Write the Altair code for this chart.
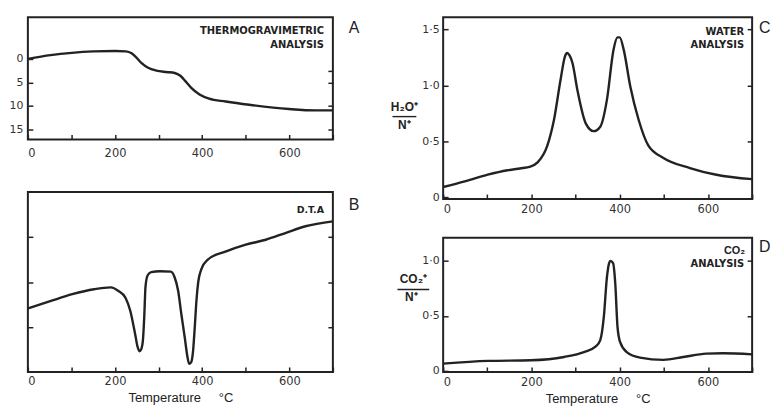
import altair as alt
import pandas as pd

# ---------------- data ----------------
# A: thermogravimetric analysis (weight loss, axis reversed)
a_temp = [0, 52, 101, 150, 200, 225, 238, 248, 261, 276, 295, 318, 337, 350, 362, 375, 394, 416, 454, 508, 599, 660, 700]
a_val = [0.0, -0.8, -1.3, -1.6, -1.7, -1.6, -1.2, -0.4, 0.9, 1.9, 2.5, 2.8, 3.0, 3.6, 4.8, 6.2, 7.6, 8.5, 9.1, 9.8, 10.7, 11.0, 11.0]

# B: D.T.A (arbitrary units)
b_temp = [0, 53, 102, 152, 190, 208, 224, 235, 246, 252, 256, 260, 264, 267, 270, 275, 283, 303, 328, 337, 345, 352, 360, 366, 370, 375, 379, 383, 387, 391, 398, 413, 455, 500, 546, 591, 637, 700]
b_val = [1.41, 1.58, 1.73, 1.84, 1.88, 1.80, 1.65, 1.36, 0.85, 0.55, 0.46, 0.50, 0.70, 1.20, 1.90, 2.15, 2.22, 2.24, 2.23, 2.10, 1.80, 1.30, 0.77, 0.35, 0.18, 0.22, 0.45, 0.99, 1.60, 2.00, 2.28, 2.50, 2.68, 2.83, 2.94, 3.09, 3.24, 3.35]

# C: water analysis H2O+/N+
c_temp = [0, 49, 101, 146, 180, 195, 214, 236, 251, 266, 276, 281, 286, 293, 304, 323, 341, 356, 371, 386, 395, 400, 409, 424, 443, 465, 499, 559, 619, 700]
c_val = [0.09, 0.14, 0.20, 0.24, 0.26, 0.27, 0.31, 0.46, 0.69, 1.05, 1.26, 1.29, 1.27, 1.20, 0.96, 0.66, 0.59, 0.63, 0.87, 1.32, 1.43, 1.43, 1.32, 0.99, 0.69, 0.46, 0.35, 0.26, 0.20, 0.16]

# D: CO2 analysis CO2+/N+
d_temp = [0, 101, 199, 274, 319, 345, 356, 364, 371, 376, 379, 385, 390, 395, 401, 416, 446, 499, 544, 596, 634, 700]
d_val = [0.066, 0.09, 0.096, 0.126, 0.17, 0.22, 0.28, 0.49, 0.85, 0.98, 1.0, 0.98, 0.79, 0.40, 0.26, 0.17, 0.12, 0.10, 0.126, 0.156, 0.16, 0.15]

x_ticks = [0, 100, 200, 300, 400, 500, 600, 700]

FONT = "Liberation Sans"
TICKFONT = "DejaVu Sans"
NOTEFONT = "DejaVu Sans"
INK = "#222222"
TEMP_TITLE = "Temperature\u00a0\u00a0\u00a0\u00a0\u00a0\u00b0C"

XLABEL = "(datum.value % 200 == 0 && datum.value < 700) ? datum.label : ''"
YDOT = "datum.value == 0 ? '0' : replace(format(datum.value, '.1f'), '.', '\u00b7')"


def text_layer(txt, px, py, align="right", size=10, weight="bold", font=NOTEFONT):
    return alt.Chart(pd.DataFrame({"t": [txt]})).mark_text(
        align=align, baseline="middle", font=font, fontSize=size,
        fontWeight=weight, color=INK
    ).encode(x=alt.value(px), y=alt.value(py), text="t:N")


def rule_layer(x1, x2, yy):
    return alt.Chart(pd.DataFrame({"r": [0]})).mark_rule(
        color=INK, strokeWidth=1.4
    ).encode(x=alt.value(x1), x2=alt.value(x2), y=alt.value(yy))


def vrule_layer(xx, y1, y2):
    return alt.Chart(pd.DataFrame({"r": [0]})).mark_rule(
        color=INK, opacity=0
    ).encode(x=alt.value(xx), y=alt.value(y1), y2=alt.value(y2))


def panel(temps, vals, ydom, yrev, left_vals, left_labels, left_expr, left_pad,
          right_vals, w, h, xpad, xtitle, extras):
    df = pd.DataFrame({"T": temps, "v": vals})
    xs = alt.Scale(domain=[0, 700], nice=False, zero=False)
    ys = alt.Scale(domain=ydom, reverse=yrev, nice=False, zero=False)
    xkw = dict(values=x_ticks, labelExpr=XLABEL, offset=-5, tickSize=5,
               labelPadding=xpad, domain=False, grid=False, tickColor=INK,
               tickWidth=1.5, ticks=True, labels=True, labelFontSize=11.5)
    if xtitle:
        xkw.update(title=xtitle, titlePadding=4, titleFont=FONT,
                   titleFontSize=13, titleFontWeight="normal", titleColor=INK)
    else:
        xkw.update(title=None)
    lkw = dict(orient="left", values=left_vals, offset=-5, tickSize=5,
               domain=False, grid=False, title=None, tickColor=INK,
               tickWidth=1.5, labels=left_labels, ticks=True, labelFontSize=11)
    if left_labels:
        lkw.update(labelPadding=left_pad)
        if left_expr:
            lkw.update(labelExpr=left_expr)
    xaxis = alt.Axis(**xkw)
    line = alt.Chart(df).mark_line(
        interpolate="monotone", color=INK, strokeWidth=2.4
    ).encode(
        x=alt.X("T:Q", scale=xs, axis=xaxis),
        y=alt.Y("v:Q", scale=ys, axis=alt.Axis(**lkw)),
    )
    right = alt.Chart(df).mark_line(opacity=0).encode(
        x=alt.X("T:Q", scale=xs, axis=xaxis),
        y=alt.Y("v:Q", scale=ys, axis=alt.Axis(
            orient="right", values=right_vals, labels=False, offset=-5,
            tickSize=5, domain=False, grid=False, title=None,
            tickColor=INK, tickWidth=1.5, ticks=True)),
    )
    return alt.layer(line, right, *extras).resolve_axis(y="independent").properties(
        width=w, height=h)


A = panel(a_temp, a_val, [-8.9, 17.2], True, [0, 5, 10, 15], True, None, 5,
          [2.5, 5, 10, 15], 307, 123, 8, None,
          [text_layer("THERMOGRAVIMETRIC", 298, 14),
           text_layer("ANALYSIS", 298, 28),
           text_layer("A", 323, 11, align="left", size=16, weight="normal", font=FONT)])

B = panel(b_temp, b_val, [0, 4], False, [1, 2, 3], False, None, 5,
          [1, 2, 3], 307, 181, 4, TEMP_TITLE,
          [text_layer("D.T.A", 298, 18, size=9.5),
           text_layer("B", 323, 13, align="left", size=16, weight="normal", font=FONT)])

C = panel(c_temp, c_val, [-0.018, 1.61], False, [0, 0.5, 1.0, 1.5], True, YDOT, 4,
          [0.5, 1.0, 1.5], 311, 183, 5, None,
          [text_layer("WATER", 303, 15),
           text_layer("ANALYSIS", 303, 28),
           text_layer("C", 318, 11, align="left", size=16, weight="normal", font=FONT),
           text_layer("H\u2082O\u207a", -39, 90, align="center", size=12, font=FONT),
           rule_layer(-51, -27, 100),
           text_layer("N\u207a", -39, 108, align="center", size=12, font=FONT),
           vrule_layer(0, -3, 0)])

D = panel(d_temp, d_val, [-0.01, 1.21], False, [0, 0.5, 1.0], True, YDOT, 4,
          [0.5, 1.0], 311, 135, 5, TEMP_TITLE,
          [text_layer("CO\u2082", 304, 13, weight="bold", size=11, font=FONT),
           text_layer("ANALYSIS", 303, 26),
           text_layer("D", 318, 9, align="left", size=16, weight="normal", font=FONT),
           text_layer("CO\u2082\u207a", -30, 41, align="center", size=12, font=FONT),
           rule_layer(-46, -14, 52),
           text_layer("N\u207a", -32, 60, align="center", size=12, font=FONT)])

left = alt.vconcat(A, B, spacing=31)
right = alt.vconcat(C, D, spacing=20)

chart = alt.hconcat(left, right, spacing=29).properties(
    padding={"left": 0, "top": 4, "right": 0, "bottom": 0},
    background="white",
).configure_view(
    stroke=INK, strokeWidth=2
).configure_axis(
    labelFont=TICKFONT, labelColor="#333333", labelFontWeight="normal"
)

chart.save("out.html", embed_options={"renderer": "svg", "actions": False})
